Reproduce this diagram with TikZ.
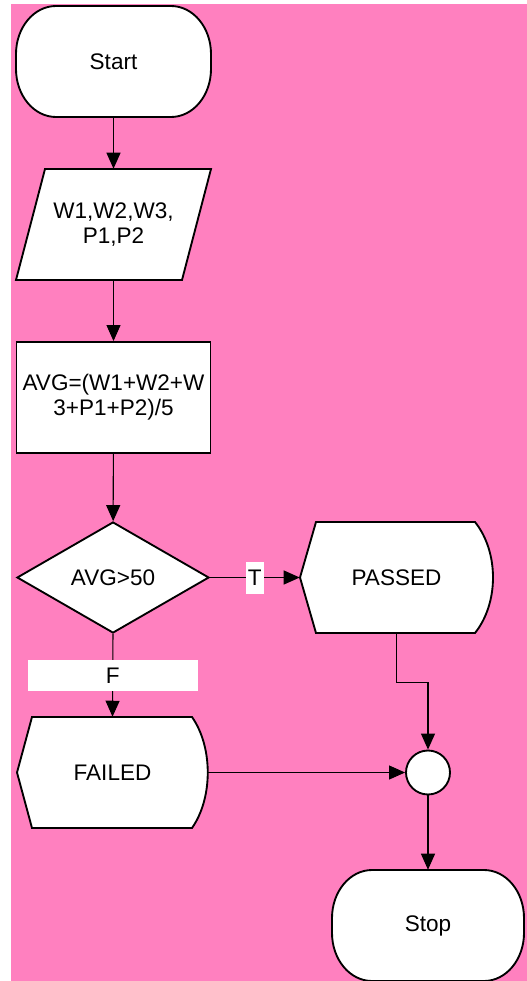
\documentclass[tikz,border=0pt]{standalone}
\usepackage{fontspec}
\setmainfont{Liberation Sans}
\usetikzlibrary{arrows.meta,shapes.geometric,calc}
\definecolor{bgpink}{RGB}{255,128,191}
\begin{document}
\begin{tikzpicture}[x=0.75pt,y=-0.75pt,
  every node/.style={font=\fontsize{16.9}{18.75}\selectfont, align=center},
  shp/.style={draw=black, line width=1.4pt, fill=white},
  conn/.style={draw=black, line width=0.8pt, -{Triangle[width=10.5pt,length=12pt]}},
  procbox/.style={shp, rectangle, minimum width=145.5pt, minimum height=83.25pt, inner sep=0pt},
  decbox/.style={shp, diamond, minimum width=144pt, minimum height=83.25pt, inner sep=0pt},
  joinbox/.style={shp, circle, minimum size=33pt, inner sep=0pt},
  ghost/.style={rectangle, draw=none, fill=none, minimum height=83.25pt, inner sep=0pt},
  lbl/.style={fill=white, inner sep=0pt}
]
\useasboundingbox (0,0) rectangle (527,981);
\fill[bgpink] (11,4) rectangle (527,981);

% shapes drawn as paths
% Start terminator
\draw[shp] (56,6) -- (171,6) .. controls (193.1,6) and (211,27.5) .. (211,54) -- (211,69)
  .. controls (211,95.5) and (193.1,117) .. (171,117) -- (56,117)
  .. controls (33.9,117) and (16,95.5) .. (16,69) -- (16,54)
  .. controls (16,27.5) and (33.9,6) .. (56,6) -- cycle;
% input parallelogram
\draw[shp] (45,169) -- (211,169) -- (182,280) -- (16,280) -- cycle;
% PASSED display
\draw[shp] (300,577.5) -- (316,522) -- (475,522) .. controls (499,552) and (499,603) .. (475,633) -- (316,633) -- cycle;
% FAILED display
\draw[shp] (17,772.5) -- (32,717) -- (192,717) .. controls (213,747) and (213,798) .. (192,828) -- (32,828) -- cycle;
% Stop terminator
\draw[shp] (372,870) -- (484,870) .. controls (506.1,870) and (524,891.5) .. (524,918) -- (524,933)
  .. controls (524,959.5) and (506.1,981) .. (484,981) -- (372,981)
  .. controls (349.9,981) and (332,959.5) .. (332,933) -- (332,918)
  .. controls (332,891.5) and (349.9,870) .. (372,870) -- cycle;

% nodes
\node[ghost, minimum width=146.25pt] (start) at (113.5,61.5) {Start};
\node[ghost, minimum width=124.5pt] (inp) at (113.5,224.5) {W1,W2,W3,\\P1,P2};
\node[procbox] (calc) at (113.5,397.5) {AVG=(W1+W2+W\\3+P1+P2)/5};
\node[decbox] (dec) at (113,577.5) {AVG>50};
\node[ghost, minimum width=144.75pt] (pass) at (396.5,577.5) {PASSED};
\node[ghost, minimum width=143.25pt] (fail) at (112.5,772.5) {FAILED};
\node[joinbox] (join) at (428,772.5) {};
\node[ghost, minimum width=144pt] (stop) at (428,925.5) {Stop};

% connectors
\draw[conn] (start) -- (inp);
\draw[conn] (inp) -- (calc);
\draw[conn] (calc) -- (dec);
\draw[conn] (dec.east) -- node[lbl, minimum width=13.5pt, minimum height=24pt] {T} (pass.west);
\draw[conn] (dec.south) -- node[lbl, minimum width=127.5pt, minimum height=23.25pt] {F} (fail.north);
\coordinate (bend) at ($(pass.south)+(0,49)$);
\draw[conn] (pass.south) -- (bend) -| (join.north);
\draw[conn] (fail.east) -- (join.west);
\draw[conn] (join.south) -- (stop.north);
\end{tikzpicture}
\end{document}
